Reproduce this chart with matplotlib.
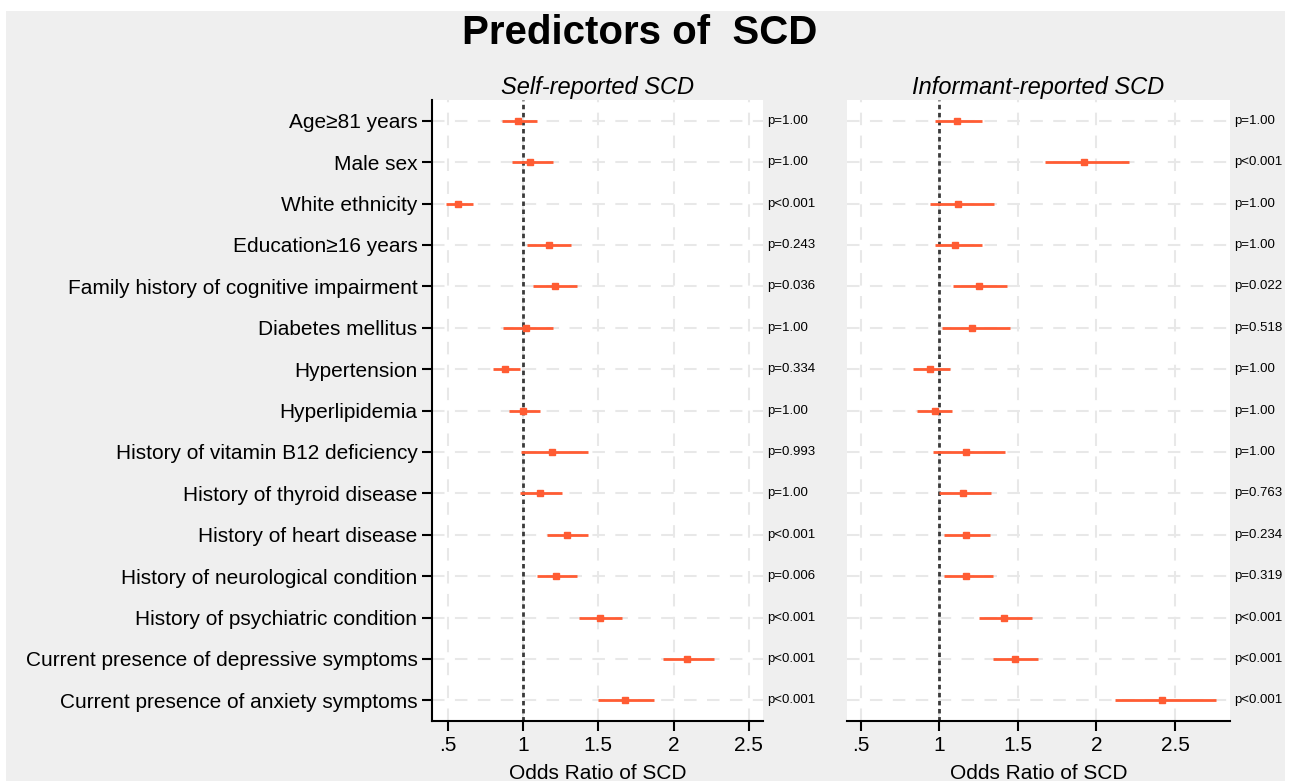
import numpy as np
import matplotlib
matplotlib.use("Agg")
import matplotlib.pyplot as plt
import matplotlib.transforms as mtransforms
from matplotlib.patches import Rectangle

plt.rcParams['font.family'] = ['Liberation Sans', 'DejaVu Sans']

# data
predictors = ["Age\u226581 years", "Male sex", "White ethnicity", "Education\u226516 years",
              "Family history of cognitive impairment", "Diabetes mellitus", "Hypertension",
              "Hyperlipidemia", "History of vitamin B12 deficiency", "History of thyroid disease",
              "History of heart disease", "History of neurological condition",
              "History of psychiatric condition", "Current presence of depressive symptoms",
              "Current presence of anxiety symptoms"]

self_or = [0.97, 1.05, 0.57, 1.17, 1.21, 1.02, 0.88, 1.00, 1.19, 1.11, 1.29, 1.22, 1.51, 2.09, 1.68]
self_lo = [0.86, 0.93, 0.49, 1.03, 1.07, 0.87, 0.80, 0.91, 0.99, 0.98, 1.16, 1.09, 1.37, 1.93, 1.50]
self_hi = [1.09, 1.20, 0.67, 1.32, 1.36, 1.20, 0.98, 1.11, 1.43, 1.26, 1.43, 1.36, 1.66, 2.27, 1.87]
self_p = ["p=1.00", "p=1.00", "p<0.001", "p=0.243", "p=0.036", "p=1.00", "p=0.334", "p=1.00",
          "p=0.993", "p=1.00", "p<0.001", "p=0.006", "p<0.001", "p<0.001", "p<0.001"]

inf_or = [1.11, 1.92, 1.12, 1.10, 1.25, 1.21, 0.94, 0.97, 1.17, 1.15, 1.17, 1.17, 1.41, 1.48, 2.42]
inf_lo = [0.97, 1.67, 0.94, 0.97, 1.09, 1.02, 0.83, 0.86, 0.96, 1.00, 1.03, 1.03, 1.25, 1.34, 2.12]
inf_hi = [1.27, 2.21, 1.35, 1.27, 1.43, 1.45, 1.07, 1.08, 1.42, 1.33, 1.32, 1.34, 1.59, 1.63, 2.76]
inf_p = ["p=1.00", "p<0.001", "p=1.00", "p=1.00", "p=0.022", "p=0.518", "p=1.00", "p=1.00",
         "p=1.00", "p=0.763", "p=0.234", "p=0.319", "p<0.001", "p<0.001", "p<0.001"]

xticks = [0.5, 1, 1.5, 2, 2.5]
xticklabels = [".5", "1", "1.5", "2", "2.5"]

col = "#ff5c33"
bg = "#efefef"

fig = plt.figure(figsize=(12.91, 7.81), dpi=100, facecolor="white")
fig.patches.append(Rectangle((6 / 1291, 0), 1279 / 1291, 1 - 11 / 781, transform=fig.transFigure,
                             facecolor=bg, edgecolor="none", zorder=-10))

ax1 = fig.add_axes([432 / 1291, 1 - 721 / 781, 331 / 1291, 621 / 781])
ax2 = fig.add_axes([847 / 1291, 1 - 721 / 781, 383 / 1291, 621 / 781])

y = np.arange(1, len(predictors) + 1)


def panel(ax, orr, lo, hi, pv, xlim, title):
    ax.set_facecolor("white")
    ax.set_xlim(*xlim)
    ax.set_ylim(15.5, 0.5)
    for xt in xticks:
        ax.axvline(xt, color="#e8e8e8", lw=1.5, dashes=(6, 5), zorder=0)
    for yy in y:
        ax.axhline(yy, color="#e8e8e8", lw=1.5, dashes=(6, 5), zorder=0)
    ax.axvline(1, color="#3a3a3a", lw=2.0, dashes=(1.6, 1.3), zorder=1)
    ax.hlines(y, lo, hi, color=col, lw=2, zorder=2)
    ax.plot(orr, y, "s", color=col, ms=4.8, zorder=3)
    trans = mtransforms.blended_transform_factory(ax.transAxes, ax.transData)
    for yy, p in zip(y, pv):
        ax.text(1.012, yy, p, transform=trans, fontsize=9.5, va="center", ha="left")
    ax.set_xticks(xticks)
    ax.set_xticklabels(xticklabels, fontsize=15)
    ax.set_xlabel("Odds Ratio of SCD", fontsize=15, labelpad=7)
    ax.set_title(title, fontsize=17, style="italic", pad=4)
    for s in ["top", "right"]:
        ax.spines[s].set_visible(False)
    ax.spines["bottom"].set_linewidth(1.5)
    ax.spines["left"].set_linewidth(1.5)
    ax.tick_params(axis="x", length=7, width=1.5, direction="out")


panel(ax1, self_or, self_lo, self_hi, self_p, (0.396, 2.594), "Self-reported SCD")
ax1.set_yticks(y)
ax1.set_yticklabels(predictors, fontsize=15)
ax1.tick_params(axis="y", length=7, width=1.5)

panel(ax2, inf_or, inf_lo, inf_hi, inf_p, (0.413, 2.85), "Informant-reported SCD")
ax2.spines["left"].set_visible(False)
ax2.set_yticks([])

fig.text(640 / 1291, 1 - 33 / 781, "Predictors of  SCD", fontsize=29, fontweight="bold",
         ha="center", va="center")

fig.savefig("out.png", dpi=100, facecolor=fig.get_facecolor())
